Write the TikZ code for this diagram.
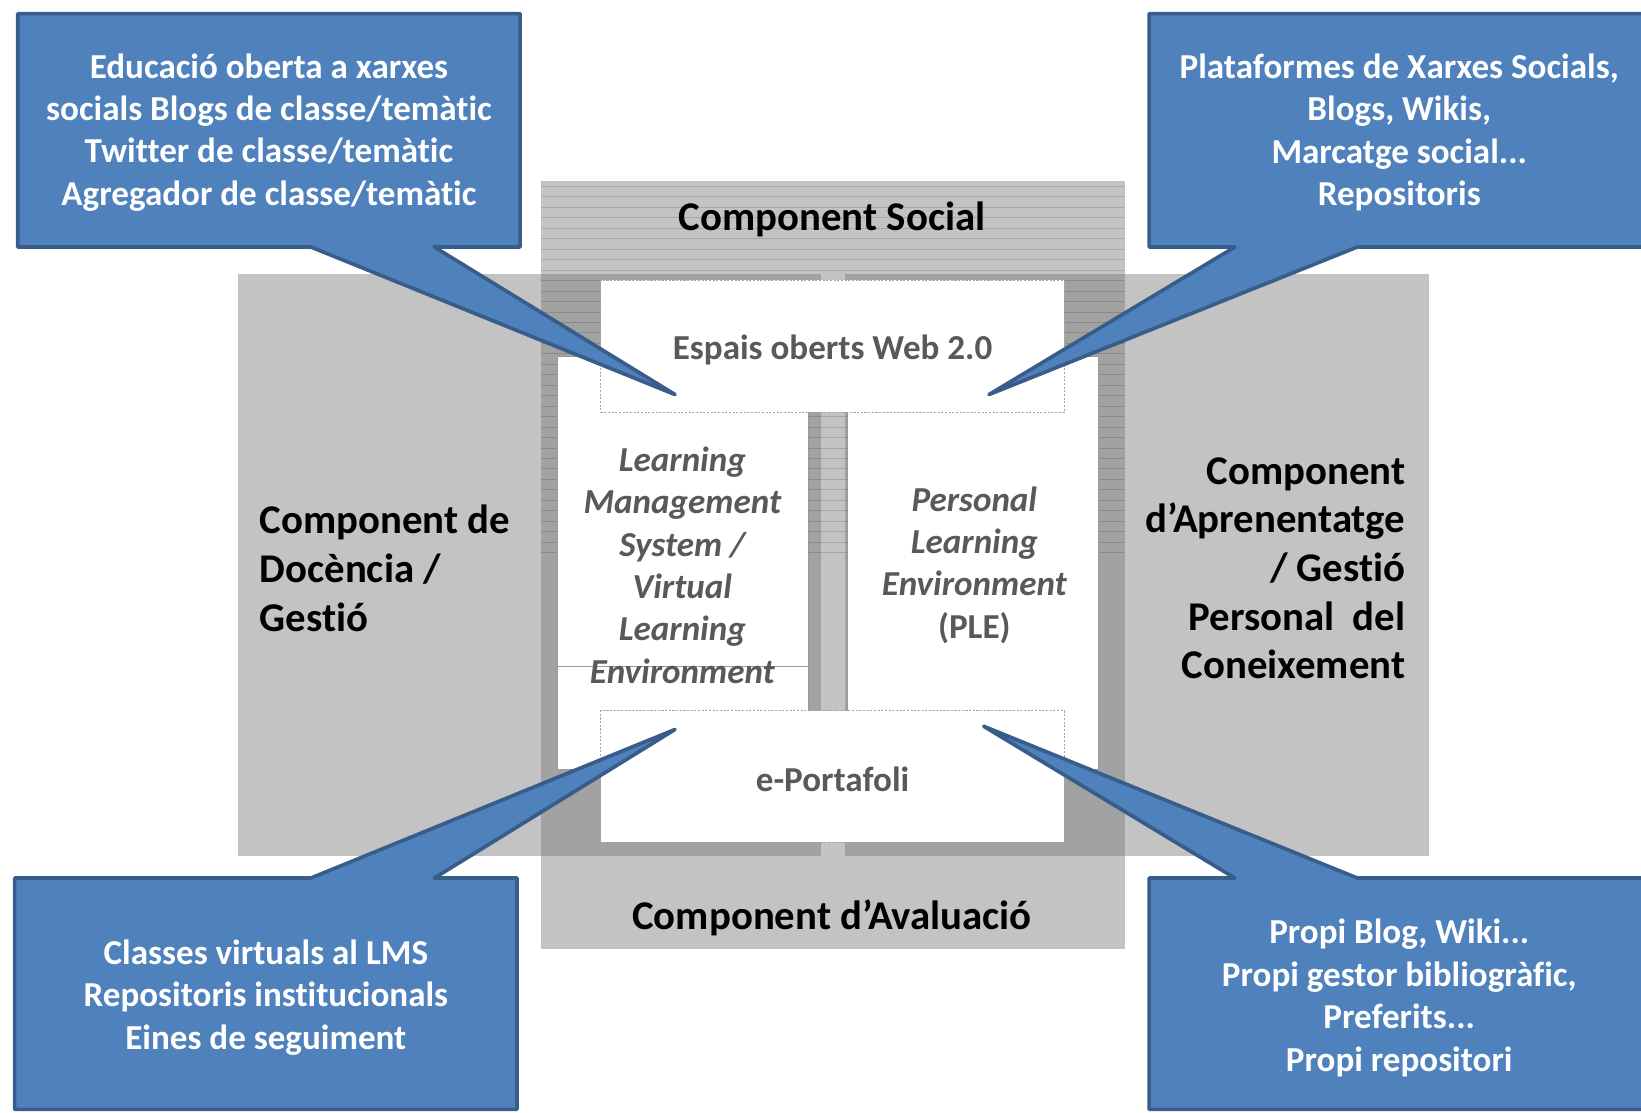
\documentclass[tikz,border=0pt]{standalone}
\usepackage{fontspec}
\setmainfont{Carlito}[Ligatures=NoCommon]
\usepackage{xcolor}
\usepackage{tikz}

\definecolor{calloutfill}{HTML}{4F81BD}
\definecolor{calloutline}{HTML}{385D8A}
\definecolor{bandgray}{HTML}{C3C3C3}
\definecolor{overlapgray}{HTML}{A2A2A2}
\definecolor{textgray}{HTML}{595959}

\begin{document}
\begin{tikzpicture}[x=1pt, y=-1pt,
  callout/.style={fill=calloutfill, draw=calloutline, line width=3.5pt, line join=round},
  callouttext/.style={text=white, font=\bfseries\fontsize{33.5}{40.5}\selectfont, align=center, inner sep=0pt},
  comptext/.style={font=\bfseries\fontsize{39}{46.5}\selectfont, inner sep=0pt},
  panel/.style={fill=white, draw=gray!80, line width=0.8pt},
  dashbox/.style={fill=white, draw=gray!70, line width=0.8pt, dash pattern=on 2pt off 1.5pt,
    minimum width=443pt, minimum height=126pt, inner sep=0pt},
  innertext/.style={text=textgray, font=\bfseries\fontsize{33.5}{40.4}\selectfont, align=center, inner sep=0pt}]

\useasboundingbox (0,0) rectangle (1568,1063);

% gray bands
\fill[bandgray] (227,262) rectangle (1365,818);
\fill[bandgray] (517,173) rectangle (1075,907);
\fill[overlapgray] (517,262) rectangle (1075,818);
\fill[bandgray] (784,262) rectangle (807,818);
\foreach \y in {178,188,...,528}
  \draw[black, opacity=0.14, line width=0.7pt] (517,\y) -- (1075,\y);

% white panels
\draw[panel] (533,341) rectangle (772,735);
\draw[panel] (810,341) rectangle (1050,735);
\draw[gray!80, line width=0.8pt] (533,637) -- (772,637);

\node[dashbox] (web) at (795.5,331) {};
\node[dashbox] (port) at (795.5,742) {};

% texts
\node[comptext] (social) at (795,210) {Component Social};
\node[comptext] (aval) at (795,877) {Component d’Avaluació};
\node[comptext, align=left, anchor=west] (docencia) at (248,543)
  {Component de\\Docència /\\Gestió};
\node[comptext, align=right, anchor=east] (aprenent) at (1343,543)
  {Component\\d’Aprenentatge\\/ Gestió\\Personal\ \ del\\Coneixement};
\node[innertext] (webtxt) at (795.5,334) {Espais oberts Web 2.0};
\node[innertext] (porttxt) at (795.5,745) {e-Portafoli};
\node[innertext] (lms) at (652,540)
  {\itshape Learning\\\itshape Management\\\itshape System /\\\itshape Virtual\\\itshape Learning\\\itshape Environment};
\node[innertext] (ple) at (931,540)
  {\itshape Personal\\\itshape Learning\\\itshape Environment\\(PLE)};

% callouts
\coordinate (tipA) at (645,377);
\coordinate (tipB) at (945,377);
\coordinate (tipC) at (645,697);
\coordinate (tipD) at (940,694);

\draw[callout] (17,13) -- (497,13) -- (497,236) -- (415,236) -- (tipA)
  -- (297,236) -- (17,236) -- cycle;
\draw[callout] (1098,13) -- (1580,13) -- (1580,236) -- (1297,236) -- (tipB)
  -- (1180,236) -- (1098,236) -- cycle;
\draw[callout] (14,839) -- (297,839) -- (tipC) -- (415,839) -- (494,839)
  -- (494,1060) -- (14,1060) -- cycle;
\draw[callout] (1098,839) -- (1180,839) -- (tipD) -- (1297,839) -- (1580,839)
  -- (1580,1060) -- (1098,1060) -- cycle;

\node[callouttext] (educ) at (257,126.5)
  {Educació oberta a xarxes\\socials Blogs de classe/temàtic\\Twitter de classe/temàtic\\Agregador de classe/temàtic};
\node[callouttext] (plat) at (1337,126.5)
  {Plataformes de Xarxes Socials,\\Blogs, Wikis,\\Marcatge social...\\Repositoris};
\node[callouttext] (classes) at (254,953)
  {Classes virtuals al LMS\\Repositoris institucionals\\Eines de seguiment};
\node[callouttext] (propi) at (1337,953.5)
  {Propi Blog, Wiki...\\Propi gestor bibliogràfic,\\Preferits...\\Propi repositori};
\end{tikzpicture}
\end{document}
